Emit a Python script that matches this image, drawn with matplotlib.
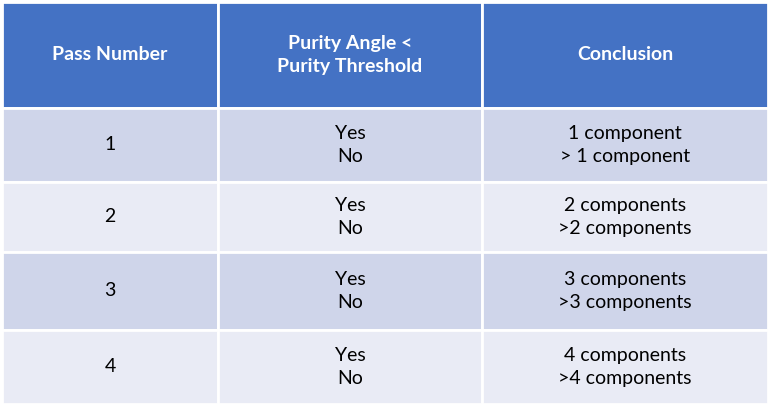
import matplotlib
matplotlib.use("Agg")
import matplotlib.pyplot as plt
from matplotlib.patches import Rectangle

headers = ["Pass Number", "Purity Angle <\nPurity Threshold", "Conclusion"]
pass_numbers = ["1", "2", "3", "4"]
purity = ["Yes\nNo"] * 4
conclusions = ["1 component\n> 1 component", "2 components\n>2 components",
               "3 components\n>3 components", "4 components\n>4 components"]

col_edges = [2, 218, 482, 768]
row_edges = [2, 108, 182, 252, 330, 404]
header_color = "#4472C4"
row_colors = ["#CFD5EA", "#E9EBF5"]

fig = plt.figure(figsize=(7.7, 4.07), dpi=100)
ax = fig.add_axes([0, 0, 1, 1])
ax.set_xlim(0, 770)
ax.set_ylim(407, 0)
ax.axis("off")

rows = [headers] + [[p, q, c] for p, q, c in zip(pass_numbers, purity, conclusions)]
for r, row in enumerate(rows):
    y0, y1 = row_edges[r], row_edges[r + 1]
    color = header_color if r == 0 else row_colors[(r - 1) % 2]
    for c, txt in enumerate(row):
        x0, x1 = col_edges[c], col_edges[c + 1]
        ax.add_patch(Rectangle((x0, y0), x1 - x0, y1 - y0, facecolor=color,
                               edgecolor="white", linewidth=2))
        ax.text((x0 + x1) / 2, (y0 + y1) / 2, txt, ha="center", va="center",
                fontsize=14, family="Lato", linespacing=1.45,
                color="white" if r == 0 else "black",
                fontweight="bold" if r == 0 else "normal")

fig.savefig("out.png", dpi=100)
